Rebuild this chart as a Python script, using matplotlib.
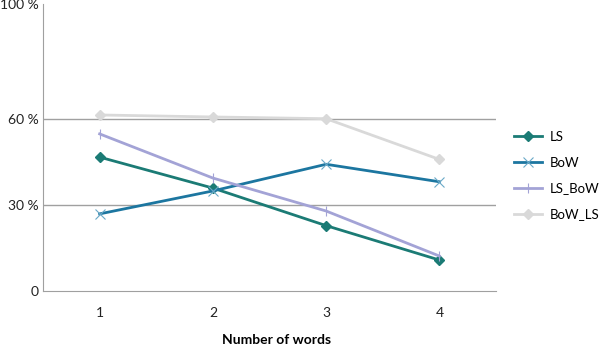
import matplotlib
matplotlib.use("Agg")
import matplotlib.pyplot as plt

# values (percent)
words = [1, 2, 3, 4]
ls = [46.7, 35.9, 22.8, 10.8]
bow = [26.9, 34.9, 44.2, 38.1]
ls_bow = [54.8, 39.4, 27.9, 12.2]
bow_ls = [61.4, 60.7, 60.1, 45.9]
y_ticks = [0, 30, 60, 100]
y_labels = ["0", "30 %", "60 %", "100 %"]

plt.rcParams['font.family'] = ['Lato', 'DejaVu Sans']

fig = plt.figure(figsize=(6.0, 3.47), dpi=100)
ax = fig.add_axes([43 / 600, 1 - 291 / 347, (496 - 43) / 600, (291 - 4.3) / 347])

ax.plot(words, ls, color='#1b7b75', lw=2, marker='D', ms=5, label='LS')
ax.plot(words, bow, color='#1c76a0', lw=2, marker='x', ms=7, mew=0.8,
        mec='#6aa9c8', label='BoW')
ax.plot(words, ls_bow, color='#a3a3d6', lw=2, marker='|', ms=7, mew=0.8,
        label='LS_BoW')
ax.plot(words, bow_ls, color='#d9d9d9', lw=2, marker='D', ms=5,
        label='BoW_LS')

ax.set_xlim(0.5, 4.5)
ax.set_ylim(0, 100)
ax.set_xticks(words)
ax.set_xticklabels([str(w) for w in words])
ax.set_yticks(y_ticks)
ax.set_yticklabels(y_labels)
for y in [30, 60]:
    ax.axhline(y, color='#a0a0a0', lw=1, zorder=0)

for s in ['top', 'right']:
    ax.spines[s].set_visible(False)
ax.spines['left'].set_color('#a0a0a0')
ax.spines['bottom'].set_color('#a0a0a0')
ax.tick_params(length=0, labelsize=10, colors='#222222')
ax.tick_params(axis='x', pad=11.5)
ax.tick_params(axis='y', pad=3)

ax.set_xlabel('Number of words', fontsize=10, fontweight='bold', va='center')
ax.xaxis.set_label_coords((277 - 43) / 453, (291 - 340) / 286.7)

handles, labels = ax.get_legend_handles_labels()
fig.legend(handles, labels, loc='center left',
           bbox_to_anchor=(514 / 600, 1 - 175.5 / 347), frameon=False,
           fontsize=9.5, handlelength=2.1, handletextpad=0.6,
           labelspacing=1.05, borderpad=0, borderaxespad=0)

fig.savefig('out.png', dpi=100)
